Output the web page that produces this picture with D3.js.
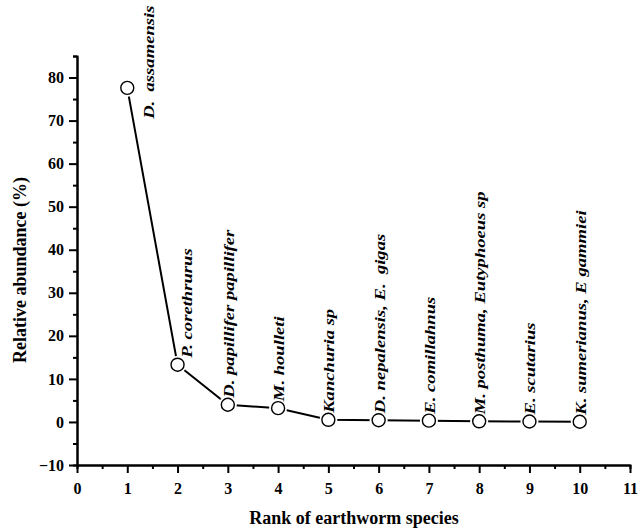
<!DOCTYPE html>
<html>
<head>
<meta charset="utf-8">
<script src="https://cdn.jsdelivr.net/npm/d3@7"></script>
<style>
  body { margin: 0; background: #fff; }
  text { font-family: "Liberation Serif", "Times New Roman", serif; font-weight: bold; }
</style>
</head>
<body>
<svg id="rankChart" width="638" height="528"></svg>
<script>
// data
let ranks = [1, 2, 3, 4, 5, 6, 7, 8, 9, 10];
let abundance = [77.6, 13.3, 4.0, 3.2, 0.5, 0.4, 0.3, 0.15, 0.1, 0.05];
let species = [
    "D.  assamensis",
    "P. corethrurus",
    "D. papillifer papillifer",
    "M. houlleti",
    "Kanchuria sp",
    "D. nepalensis, E.  gigas",
    "E. comillahnus",
    "M. posthuma, Eutyphoeus sp",
    "E. scutarius",
    "K. sumerianus, E gammiei"
];
let xTicks = [0, 1, 2, 3, 4, 5, 6, 7, 8, 9, 10, 11];
let yTicks = [-10, 0, 10, 20, 30, 40, 50, 60, 70, 80];

let svg = d3.select("#rankChart");
let x = d3.scaleLinear().domain([0, 11]).range([77, 630]);
let y = d3.scaleLinear().domain([-10, 85]).range([465, 56]);

let points = ranks.map((r, i) => ({"rank": r, "value": abundance[i], "name": species[i]}));

// axes
let yAxis = svg.append("g").attr("transform", "translate(" + x(0) + ",0)")
    .call(d3.axisLeft(y).tickValues(yTicks).tickSizeInner(8).tickSizeOuter(0).tickPadding(5));
let yMinor = svg.append("g").attr("transform", "translate(" + x(0) + ",0)")
    .call(d3.axisLeft(y).tickValues(d3.range(-5, 86, 10)).tickSize(4).tickFormat(""));
let xAxis = svg.append("g").attr("transform", "translate(0," + y(-10) + ")")
    .call(d3.axisBottom(x).tickValues(xTicks).tickSizeInner(8).tickSizeOuter(0).tickPadding(10));
let xMinor = svg.append("g").attr("transform", "translate(0," + y(-10) + ")")
    .call(d3.axisBottom(x).tickValues(d3.range(0.5, 11, 1)).tickSize(4).tickFormat(""));

[yAxis, yMinor, xAxis, xMinor].forEach(g => {
    g.selectAll("path, line").attr("stroke", "#000").attr("stroke-width", 2);
    g.selectAll("text").attr("font-size", 16).attr("fill", "#000")
        .attr("font-family", "'Liberation Serif', 'Times New Roman', serif").attr("font-weight", "bold");
});

// axis titles
svg.append("text")
    .attr("x", 354).attr("y", 524)
    .attr("text-anchor", "middle")
    .attr("font-size", 18)
    .text("Rank of earthworm species");
svg.append("text")
    .attr("transform", "translate(26,270) rotate(-90)")
    .attr("text-anchor", "middle")
    .attr("font-size", 18)
    .text("Relative abundance (%)");

// line
let valueline = d3.line()
    .x(d => x(d.rank))
    .y(d => y(d.value));
svg.append("path").datum(points)
    .attr("d", valueline)
    .attr("fill", "none")
    .attr("stroke", "#000")
    .attr("stroke-width", 2);

// white halo gives the gap between line and markers
svg.selectAll("circle.halo").data(points).enter().append("circle")
    .attr("class", "halo")
    .attr("cx", d => x(d.rank)).attr("cy", d => y(d.value))
    .attr("r", 9).attr("fill", "#fff");
svg.selectAll("circle.dot").data(points).enter().append("circle")
    .attr("class", "dot")
    .attr("cx", d => x(d.rank)).attr("cy", d => y(d.value))
    .attr("r", 6.5).attr("fill", "#fff")
    .attr("stroke", "#000").attr("stroke-width", 1.4);

// species labels, tall and narrow like the original
let labelShift = {0: [27, 31], 1: [14, -7]};
svg.selectAll("text.species").data(points).enter().append("text")
    .attr("class", "species")
    .attr("transform", (d, i) => {
        let s = labelShift[i] || [6, -7];
        return "translate(" + (x(d.rank) + s[0]) + "," + (y(d.value) + s[1]) + ") rotate(-90) scale(1.33,1)";
    })
    .attr("font-size", 14)
    .attr("font-style", "italic")
    .style("white-space", "pre")
    .text(d => d.name);
</script>
</body>
</html>
